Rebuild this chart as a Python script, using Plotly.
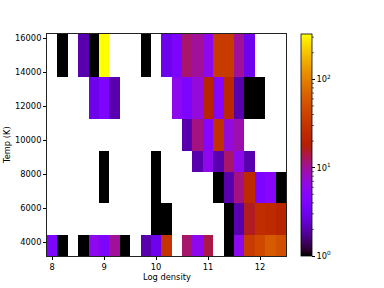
import numpy as np
import plotly.graph_objects as go

# bin edges
x_edges = [round(7.9 + 0.2 * i, 2) for i in range(24)]
y_edges = [3180, 4410, 6275, 8135, 9370, 11235, 13720, 16235]

N = None
# counts per row (bottom to top), 23 columns each, None = empty
row0 = [4, 1, N, 1, 6, 4, 10, 1, N, 2, 3, 30, N, 12, 6, 14, N, 1, 6, 35, 45, 60, 50]
row1 = [N, N, N, N, N, N, N, N, N, N, 1, 1, N, N, N, N, N, 1, 2, 16, 26, 24, 20]
row2 = [N, N, N, N, N, 1, N, N, N, N, 1, N, N, N, N, N, 1, 2, 11, 24, 4, 5, 1]
row3 = [N, N, N, N, N, 1, N, N, N, N, 1, N, N, N, 2, 6, 2, 12, 6, 2, N, N, N]
row4 = [N, N, N, N, N, N, N, N, N, N, N, N, N, 2, 11, 5, 28, 7, 9, N, N, N, N]
row5 = [N, N, N, N, 3, 4, 2, N, N, N, N, N, 6, 4, 7, 20, 5, 22, 2, 1, 1, N, N]
row6 = [N, 1, N, 2, 1, 326, N, N, N, 1, N, 3, 4, 12, 10, 6, 35, 35, 10, 3, N, N, N]
counts = [row0, row1, row2, row3, row4, row5, row6]

zmax_count = 326
cbar_major = [1, 10, 100]
cbar_labels = ["10<sup>0</sup>", "10<sup>1</sup>", "10<sup>2</sup>"]

z = [[(np.log10(v) if v is not None else None) for v in r] for r in counts]
zmax = float(np.log10(zmax_count))

# gnuplot colormap
cs = []
for t in np.linspace(0, 1, 41):
    r = np.sqrt(t)
    g = t ** 3
    b = min(max(np.sin(2 * np.pi * t), 0), 1)
    cs.append([float(t), "rgb(%d,%d,%d)" % (round(r * 255), round(g * 255), round(b * 255))])

L, R, T, B = 47, 98, 34, 32
W, H = 384, 288
pw = W - L - R
ph = H - T - B
cb_left, cb_right = 301, 312

fig = go.Figure(go.Heatmap(
    x=x_edges, y=y_edges, z=z,
    zmin=0, zmax=zmax,
    colorscale=cs,
    hoverongaps=False,
    colorbar=dict(
        x=(cb_left - L) / pw, xanchor="left", xpad=0, ypad=0,
        y=0.5, yanchor="middle", len=1, lenmode="fraction",
        thickness=cb_right - cb_left, thicknessmode="pixels",
        outlinewidth=0.8, outlinecolor="black",
        tickmode="array", tickvals=[float(np.log10(v)) for v in cbar_major], ticktext=cbar_labels,
        ticks="outside", ticklen=3, tickwidth=0.7, tickcolor="black",
        tickfont=dict(size=8.3, color="black"),
    ),
))

# minor ticks on the colorbar
for d in range(0, 3):
    for m in range(2, 10):
        v = m * 10 ** d
        if v > zmax_count:
            break
        yp = np.log10(v) / zmax
        fig.add_shape(type="line", xref="paper", yref="paper",
                      x0=(cb_right - L) / pw, x1=(cb_right + 2 - L) / pw, y0=yp, y1=yp,
                      line=dict(color="black", width=0.6))

fig.update_layout(
    width=W, height=H,
    margin=dict(l=L, r=R, t=T, b=B, autoexpand=False),
    paper_bgcolor="white", plot_bgcolor="white",
    font=dict(family="DejaVu Sans", size=8.3, color="black"),
    showlegend=False,
)
fig.update_xaxes(
    range=[7.9, 12.5], tickvals=[8, 9, 10, 11, 12], automargin=False,
    showgrid=False, zeroline=False,
    showline=True, mirror=True, linecolor="#222", linewidth=0.8,
    ticks="outside", ticklen=3, tickwidth=0.7, tickcolor="black",
    tickfont=dict(size=8.3),
)
fig.update_yaxes(
    range=[3180, 16235], tickvals=[4000, 6000, 8000, 10000, 12000, 14000, 16000],
    tickformat="d", automargin=False,
    showgrid=False, zeroline=False,
    showline=True, mirror=True, linecolor="#222", linewidth=0.8,
    ticks="outside", ticklen=3, tickwidth=0.7, tickcolor="black",
    tickfont=dict(size=8.3),
)
fig.add_annotation(text="Log density", xref="paper", yref="paper", x=0.5, y=0,
                   yshift=-(276.7 - 256), showarrow=False, font=dict(size=8.3),
                   xanchor="center", yanchor="middle")
fig.add_annotation(text="Temp (K)", xref="paper", yref="paper", x=0, y=0.5,
                   xshift=-(47 - 7), showarrow=False, font=dict(size=8.3), textangle=-90,
                   xanchor="center", yanchor="middle")

fig.write_html("out.html", config={"displayModeBar": False},
               post_script="document.body.style.margin='0';document.body.style.padding='0';")
